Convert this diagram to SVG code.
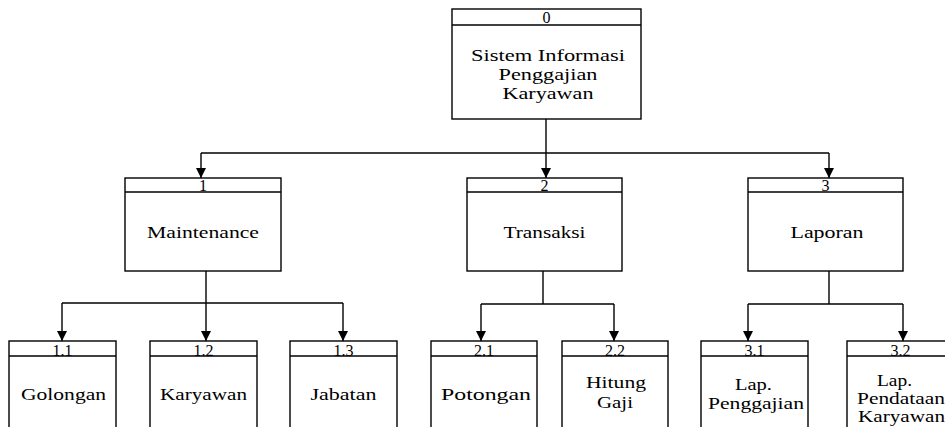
<svg xmlns="http://www.w3.org/2000/svg" width="945" height="427" viewBox="0 0 945 427">
  <style>
    .box { fill: #ffffff; stroke: #000000; stroke-width: 1.4; }
    .sep { stroke: #000000; stroke-width: 1.4; }
    .wire { fill: none; stroke: #000000; stroke-width: 1.4; }
    text { font-family: "Liberation Serif", "DejaVu Serif", serif; font-size: 16.5px; fill: #000000; text-anchor: middle; }
    .num { font-size: 16px; }
  </style>
  <defs>
    <marker id="arrow" viewBox="0 0 10 10" refX="10" refY="5" markerWidth="10" markerHeight="12" markerUnits="userSpaceOnUse" orient="auto">
      <path d="M0,0 L10,5 L0,10 z" fill="#000000"/>
    </marker>
  </defs>

  <rect width="945" height="427" fill="#ffffff"/>

  <!-- connectors -->
  <g id="connectors">
    <path class="wire" d="M546 119 V153"/>
    <path class="wire" d="M201 153 H829"/>
    <path class="wire" d="M201 153 V178" marker-end="url(#arrow)"/>
    <path class="wire" d="M546 153 V178" marker-end="url(#arrow)"/>
    <path class="wire" d="M829 153 V178" marker-end="url(#arrow)"/>

    <path class="wire" d="M206 271 V303"/>
    <path class="wire" d="M62 303 H343"/>
    <path class="wire" d="M62 303 V341" marker-end="url(#arrow)"/>
    <path class="wire" d="M206 303 V341" marker-end="url(#arrow)"/>
    <path class="wire" d="M343 303 V341" marker-end="url(#arrow)"/>

    <path class="wire" d="M543 271 V304"/>
    <path class="wire" d="M481 304 H614"/>
    <path class="wire" d="M481 304 V341" marker-end="url(#arrow)"/>
    <path class="wire" d="M614 304 V341" marker-end="url(#arrow)"/>

    <path class="wire" d="M829 271 V304"/>
    <path class="wire" d="M748 304 H903"/>
    <path class="wire" d="M748 304 V341" marker-end="url(#arrow)"/>
    <path class="wire" d="M903 304 V341" marker-end="url(#arrow)"/>
  </g>

  <!-- level 0 -->
  <g id="node-0">
    <rect class="box" x="452" y="9" width="189" height="110"/>
    <line class="sep" x1="452" y1="25" x2="641" y2="25"/>
    <text class="num" x="546.5" y="23">0</text>
    <text x="548" y="61" textLength="154" lengthAdjust="spacingAndGlyphs">Sistem Informasi</text>
    <text x="548" y="80" textLength="99" lengthAdjust="spacingAndGlyphs">Penggajian</text>
    <text x="548" y="99" textLength="91" lengthAdjust="spacingAndGlyphs">Karyawan</text>
  </g>

  <!-- level 1 -->
  <g id="node-1">
    <rect class="box" x="125" y="178" width="156" height="93"/>
    <line class="sep" x1="125" y1="192" x2="281" y2="192"/>
    <text class="num" x="203" y="191">1</text>
    <text x="203" y="238" textLength="112" lengthAdjust="spacingAndGlyphs">Maintenance</text>
  </g>
  <g id="node-2">
    <rect class="box" x="467" y="178" width="155" height="93"/>
    <line class="sep" x1="467" y1="192" x2="622" y2="192"/>
    <text class="num" x="544.5" y="191">2</text>
    <text x="544.5" y="238" textLength="82" lengthAdjust="spacingAndGlyphs">Transaksi</text>
  </g>
  <g id="node-3">
    <rect class="box" x="748" y="178" width="155" height="93"/>
    <line class="sep" x1="748" y1="192" x2="903" y2="192"/>
    <text class="num" x="825.5" y="191">3</text>
    <text x="827" y="238" textLength="73" lengthAdjust="spacingAndGlyphs">Laporan</text>
  </g>

  <!-- level 2 -->
  <g id="node-1-1">
    <rect class="box" x="9" y="341" width="107" height="100"/>
    <line class="sep" x1="9" y1="356" x2="116" y2="356"/>
    <text class="num" x="62.5" y="356">1.1</text>
    <text x="63.5" y="400" textLength="85" lengthAdjust="spacingAndGlyphs">Golongan</text>
  </g>
  <g id="node-1-2">
    <rect class="box" x="150" y="341" width="107" height="100"/>
    <line class="sep" x1="150" y1="356" x2="257" y2="356"/>
    <text class="num" x="203.5" y="356">1.2</text>
    <text x="203.5" y="400" textLength="87" lengthAdjust="spacingAndGlyphs">Karyawan</text>
  </g>
  <g id="node-1-3">
    <rect class="box" x="290" y="341" width="107" height="100"/>
    <line class="sep" x1="290" y1="356" x2="397" y2="356"/>
    <text class="num" x="343.5" y="356">1.3</text>
    <text x="343.5" y="400" textLength="66" lengthAdjust="spacingAndGlyphs">Jabatan</text>
  </g>
  <g id="node-2-1">
    <rect class="box" x="431" y="341" width="106" height="100"/>
    <line class="sep" x1="431" y1="356" x2="537" y2="356"/>
    <text class="num" x="484" y="356">2.1</text>
    <text x="486" y="400" textLength="90" lengthAdjust="spacingAndGlyphs">Potongan</text>
  </g>
  <g id="node-2-2">
    <rect class="box" x="562" y="341" width="106" height="100"/>
    <line class="sep" x1="562" y1="356" x2="668" y2="356"/>
    <text class="num" x="615" y="356">2.2</text>
    <text x="616" y="388" textLength="60" lengthAdjust="spacingAndGlyphs">Hitung</text>
    <text x="615" y="408" textLength="36" lengthAdjust="spacingAndGlyphs">Gaji</text>
  </g>
  <g id="node-3-1">
    <rect class="box" x="701" y="341" width="107" height="100"/>
    <line class="sep" x1="701" y1="356" x2="808" y2="356"/>
    <text class="num" x="754.5" y="356">3.1</text>
    <text x="753.5" y="390" textLength="37" lengthAdjust="spacingAndGlyphs">Lap.</text>
    <text x="756" y="409" textLength="96" lengthAdjust="spacingAndGlyphs">Penggajian</text>
  </g>
  <g id="node-3-2">
    <rect class="box" x="847" y="341" width="107" height="100"/>
    <line class="sep" x1="847" y1="356" x2="954" y2="356"/>
    <text class="num" x="900.5" y="356">3.2</text>
    <text x="894.5" y="386" textLength="35" lengthAdjust="spacingAndGlyphs">Lap.</text>
    <text x="901" y="404" textLength="88" lengthAdjust="spacingAndGlyphs">Pendataan</text>
    <text x="901.5" y="422" textLength="87" lengthAdjust="spacingAndGlyphs">Karyawan</text>
  </g>
</svg>
